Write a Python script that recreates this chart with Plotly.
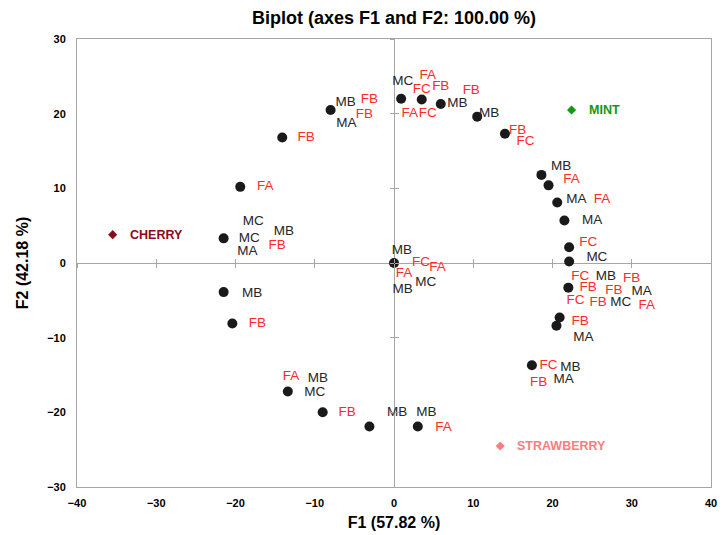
import plotly.graph_objects as go

# Observation points (F1, F2)
obs_x = [-8.0, 0.9, 3.5, 5.9, 10.5, 14.0, -14.1, -19.4, 18.6, 19.5, 20.6, 21.5, 22.1, 22.1,
         -21.5, 0.0, -21.5, -20.4, 22.0, 20.9, 20.5, 17.4, -13.4, -9.0, -3.1, 3.0]
obs_y = [20.5, 22.0, 21.9, 21.3, 19.6, 17.3, 16.8, 10.2, 11.8, 10.4, 8.1, 5.7, 2.1, 0.2,
         3.3, 0.0, -3.9, -8.1, -3.3, -7.3, -8.4, -13.7, -17.2, -20.0, -21.9, -21.9]

# Black labels (M*)
m_text = ["MC", "MB", "MB", "MB", "MA", "MB", "MA", "MA", "MA", "MC",
          "MC", "MB", "MC", "MA", "MB", "MC", "MB", "MB", "MB", "MA", "MC", "MA",
          "MB", "MB", "MC", "MB", "MB"]
m_x = [1.1, 8.0, 12.0, -6.1, -6.0, 21.1, 23.0, 25.0, 23.9, 25.6,
       -17.75, -13.9, -18.25, -18.5, 1.0, 4.0, 1.1, -17.9, 26.75, 31.25, 28.6, 21.4,
       22.25, -9.6, -10.0, 0.4, 4.1]
m_y = [24.3, 21.3, 20.0, 21.5, 18.6, 12.9, 8.5, 5.7, -10.0, 0.7,
       5.5, 4.2, 3.3, 1.5, 1.7, -2.6, -3.5, -4.1, -1.8, -3.9, -5.3, -15.6,
       -14.0, -15.5, -17.3, -20.0, -20.0]

# Red labels (F*)
f_text = ["FA", "FC", "FB", "FB", "FA", "FC", "FB", "FB", "FB", "FC", "FB", "FA",
          "FA", "FA", "FC", "FB", "FC", "FA", "FA", "FB", "FC", "FB", "FB", "FB",
          "FC", "FB", "FA", "FB", "FC", "FB", "FA", "FB", "FA"]
f_x = [4.25, 3.5, 5.9, 9.75, 2.0, 4.25, -3.1, -3.75, 15.6, 16.6, -11.1, -16.25,
       22.4, 26.25, 24.5, -14.75, 3.4, 5.5, 1.25, -17.25, 23.5, 30.0, 24.5, 27.75,
       22.9, 25.75, 31.9, 23.5, 19.5, 18.25, -13.0, -5.9, 6.25]
f_y = [25.1, 23.2, 23.6, 23.1, 20.0, 20.0, 21.9, 19.9, 17.7, 16.3, 16.8, 10.2,
       11.2, 8.5, 2.7, 2.3, 0.1, -0.6, -1.4, -8.1, -1.8, -2.1, -3.3, -3.7,
       -5.1, -5.3, -5.7, -7.8, -13.7, -16.0, -15.2, -20.0, -22.0]

# Supplementary variables
sup_names = ["CHERRY", "MINT", "STRAWBERRY"]
sup_x = [-35.5, 22.4, 13.4]
sup_y = [3.8, 20.5, -24.5]
sup_colors = ["#8B0A1A", "#109A10", "#FF7C80"]

FONT = "Liberation Sans"
AX = "#A6A6A6"

fig = go.Figure()

fig.add_trace(go.Scatter(x=obs_x, y=obs_y, mode="markers",
                         marker=dict(color="#1A1A1A", size=10), hoverinfo="skip"))
fig.add_trace(go.Scatter(x=m_x, y=m_y, mode="text", text=m_text,
                         textfont=dict(family=FONT, size=13.5, color="#262626"),
                         hoverinfo="skip"))
fig.add_trace(go.Scatter(x=f_x, y=f_y, mode="text", text=f_text,
                         textfont=dict(family=FONT, size=13.5, color="#FF2A2A"),
                         hoverinfo="skip"))
for n, x, y, c in zip(sup_names, sup_x, sup_y, sup_colors):
    fig.add_trace(go.Scatter(x=[x], y=[y], mode="markers",
                             marker=dict(symbol="diamond", color=c, size=7),
                             hoverinfo="skip"))
    fig.add_annotation(x=x, y=y, text=n, showarrow=False, xanchor="left",
                       xshift=15, font=dict(family=FONT, size=12.5, color=c, weight="bold"))

# dummy traces to activate crossing-tick axes
fig.add_trace(go.Scatter(x=[0], y=[0], xaxis="x2", yaxis="y2", mode="markers",
                         marker=dict(opacity=0), hoverinfo="skip"))
fig.add_trace(go.Scatter(x=[0], y=[0], xaxis="x3", yaxis="y3", mode="markers",
                         marker=dict(opacity=0), hoverinfo="skip"))

tickfont = dict(family=FONT, size=11, color="#000000", weight="bold")
fig.update_layout(
    width=724, height=535,
    margin=dict(l=77, r=7, t=39, b=47),
    paper_bgcolor="white", plot_bgcolor="white",
    showlegend=False,
    title=dict(text="Biplot (axes F1 and F2: 100.00 %)", x=0.5, xref="paper",
               xanchor="center", y=0.966, yanchor="middle",
               font=dict(family=FONT, size=18, color="#000", weight="bold")),
    xaxis=dict(range=[-40, 40], dtick=10, tick0=0, showgrid=False, showline=True,
               mirror=True, linecolor=AX, linewidth=1, zeroline=True,
               zerolinecolor=AX, zerolinewidth=1, ticks="", tickfont=tickfont,
               ticklabelstandoff=6,
               title=dict(text="F1 (57.82 %)", standoff=8,
                          font=dict(family=FONT, size=16, color="#000", weight="bold"))),
    yaxis=dict(range=[-30, 30], dtick=10, tick0=0, showgrid=False, showline=True,
               mirror=True, linecolor=AX, linewidth=1, zeroline=True,
               zerolinecolor=AX, zerolinewidth=1, ticks="", tickfont=tickfont,
               ticklabelstandoff=8,
               title=dict(text="F2 (42.18 %)", standoff=14,
                          font=dict(family=FONT, size=16, color="#000", weight="bold"))),
    xaxis2=dict(overlaying="x", anchor="free", position=0.5, range=[-40, 40], dtick=10,
                tick0=0, ticks="outside", ticklen=4, tickcolor=AX, showticklabels=False,
                showline=False, showgrid=False, zeroline=False),
    yaxis2=dict(overlaying="y", anchor="free", position=0.5, range=[-30, 30], dtick=10,
                tick0=0, ticks="outside", ticklen=4, tickcolor=AX, showticklabels=False,
                showline=False, showgrid=False, zeroline=False),
    xaxis3=dict(overlaying="x", anchor="free", position=0.5, range=[-40, 40], dtick=10,
                tick0=0, ticks="inside", ticklen=4, tickcolor=AX, showticklabels=False,
                showline=False, showgrid=False, zeroline=False),
    yaxis3=dict(overlaying="y", anchor="free", position=0.5, range=[-30, 30], dtick=10,
                tick0=0, ticks="inside", ticklen=4, tickcolor=AX, showticklabels=False,
                showline=False, showgrid=False, zeroline=False),
)

fig.write_html("out.html", config={"displayModeBar": False},
               post_script="document.body.style.margin='0';")
